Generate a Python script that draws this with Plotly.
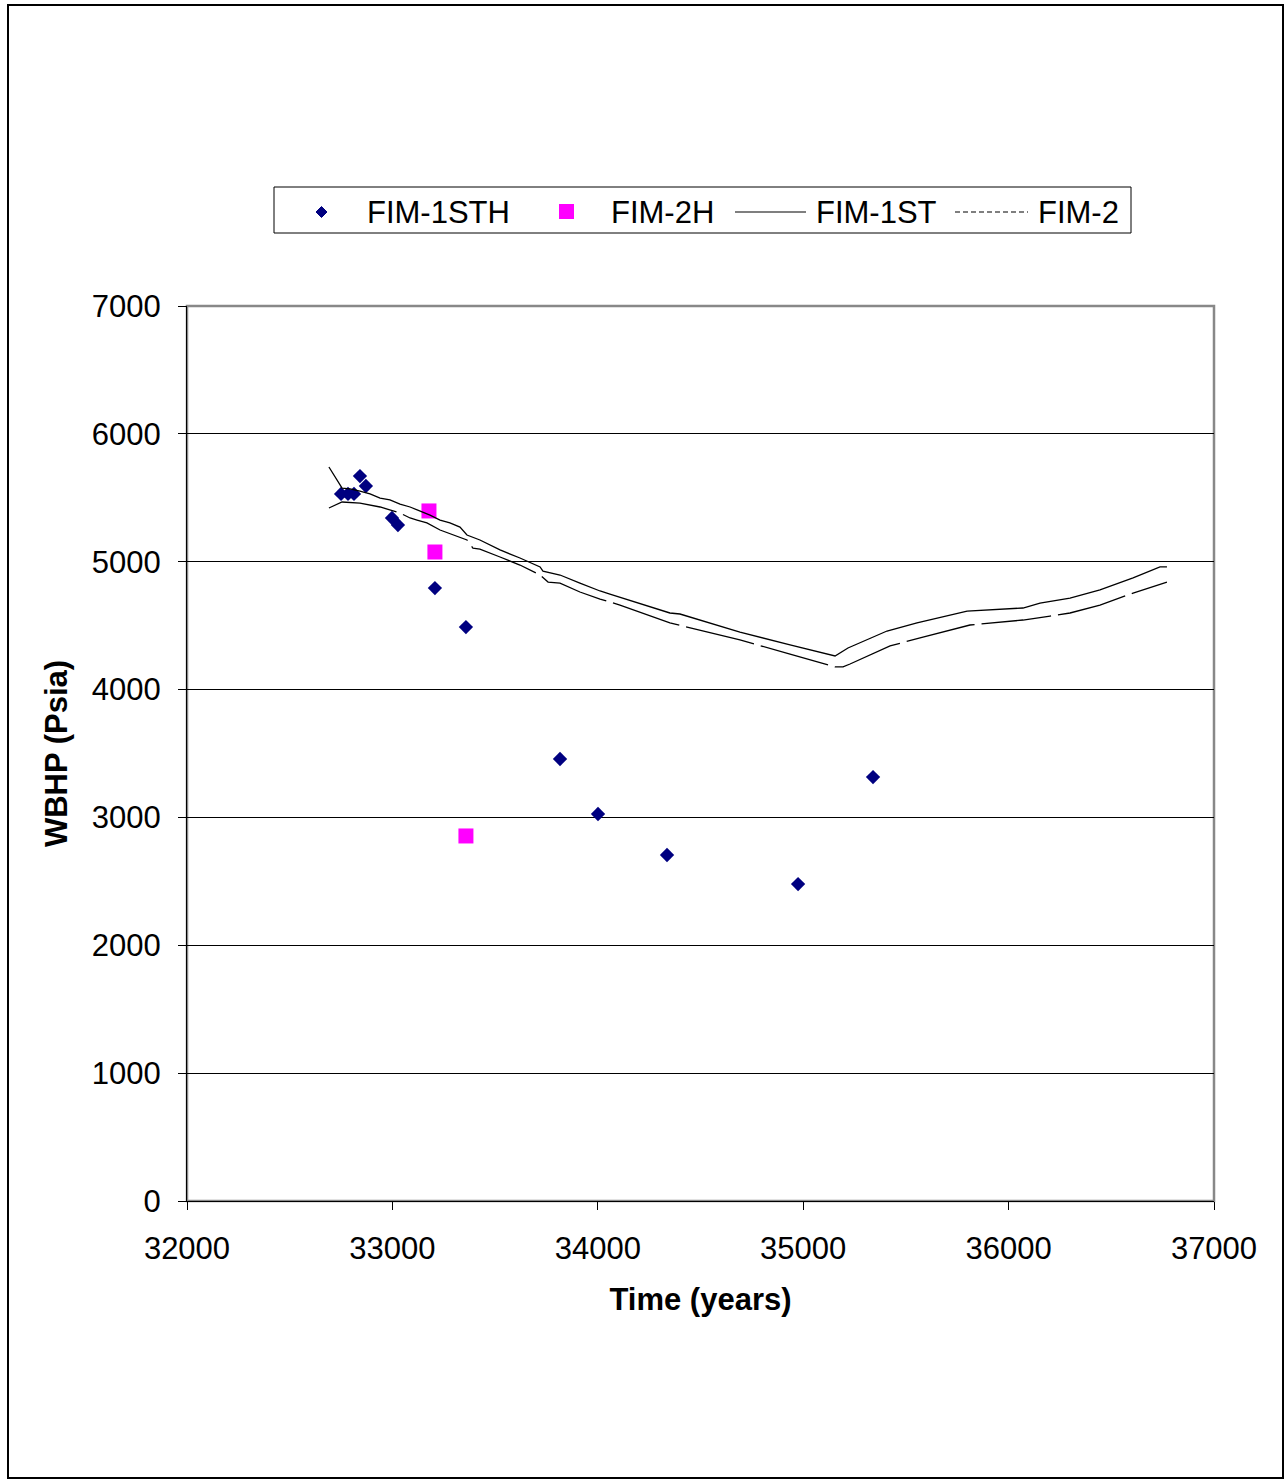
import plotly.graph_objects as go

# FIM-1STH observed points
sth_x = [32750, 32784, 32813, 32842, 32871, 32998, 33027, 33207, 33358, 33816, 34001, 34337, 34975, 35340]
sth_y = [5530, 5530, 5530, 5670, 5592, 5342, 5287, 4794, 4489, 3457, 3027, 2706, 2479, 3316]

# FIM-2H observed points
h2_x = [33178, 33207, 33358]
h2_y = [5397, 5076, 2855]

# FIM-1ST simulated line
st_x = [32691, 32755, 32794, 32842, 32891, 32940, 32988, 33037, 33086, 33134, 33183, 33232,
        33280, 33329, 33353, 33363, 33426, 33524, 33621, 33719, 33733, 33816, 33913, 34011,
        34059, 34351, 34400, 34692, 34936, 35155, 35218, 35408, 35554, 35798, 36070, 36153,
        36299, 36445, 36606, 36737, 36771]
st_y = [5741, 5576, 5569, 5553, 5530, 5498, 5483, 5451, 5428, 5397, 5365, 5326,
        5303, 5271, 5232, 5209, 5170, 5092, 5029, 4959, 4927, 4896, 4833, 4771,
        4747, 4599, 4591, 4450, 4349, 4263, 4325, 4458, 4521, 4614, 4638, 4677,
        4716, 4779, 4873, 4959, 4959]

# FIM-2 simulated line
f2_x = [32691, 32725, 32755, 32842, 32940, 33037, 33086, 33120, 33168, 33232, 33295, 33363,
        33392, 33426, 33524, 33621, 33719, 33758, 33816, 33913, 34011, 34108, 34351, 34692,
        34936, 35155, 35194, 35228, 35423, 35583, 35812, 36070, 36202, 36299, 36445, 36606,
        36771]
f2_y = [5420, 5443, 5467, 5459, 5428, 5381, 5342, 5326, 5303, 5248, 5209, 5170,
        5107, 5099, 5037, 4974, 4896, 4841, 4833, 4763, 4708, 4661, 4521, 4388,
        4278, 4177, 4177, 4200, 4341, 4411, 4505, 4544, 4575, 4599, 4661, 4755,
        4841]

series_names = ["FIM-1STH", "FIM-2H", "FIM-1ST", "FIM-2"]
x_ticks = [32000, 33000, 34000, 35000, 36000, 37000]
y_ticks = [0, 1000, 2000, 3000, 4000, 5000, 6000, 7000]

FONT = "Liberation Sans, Arial, sans-serif"
NAVY = "#000080"
MAGENTA = "#FF00FF"

fig = go.Figure()
fig.add_trace(go.Scatter(x=sth_x, y=sth_y, mode="markers", name=series_names[0], showlegend=False,
                         marker=dict(symbol="diamond", size=11, color=NAVY)))
fig.add_trace(go.Scatter(x=h2_x, y=h2_y, mode="markers", name=series_names[1], showlegend=False,
                         marker=dict(symbol="square", size=15, color=MAGENTA)))
fig.add_trace(go.Scatter(x=st_x, y=st_y, mode="lines", name=series_names[2], showlegend=False,
                         line=dict(color="black", width=1.3)))
fig.add_trace(go.Scatter(x=f2_x, y=f2_y, mode="lines", name=series_names[3], showlegend=False,
                         line=dict(color="black", width=1.3, dash="70px,7px")))

W, H = 1286, 1482
L, R, T, B = 187, 1214, 306, 1201
pw, ph = R - L, B - T


def px(v):
    return (v - L) / pw


def py(v):
    return (B - v) / ph


# manual legend (Excel style)
leg_y = 212
shapes = [
    dict(type="rect", xref="paper", yref="paper", x0=0, x1=1, y0=0, y1=1,
         line=dict(color="#888888", width=2.5), layer="below"),
    dict(type="rect", xref="paper", yref="paper",
         x0=px(8), x1=px(1283), y0=py(1478), y1=py(5),
         line=dict(color="black", width=2), layer="below"),
    # legend box
    dict(type="rect", xref="paper", yref="paper",
         x0=px(274), x1=px(1131), y0=py(233), y1=py(187),
         line=dict(color="black", width=1), fillcolor="white"),
    # diamond symbol
    dict(type="path", xref="paper", yref="paper",
         path=f"M {px(321.5)},{py(leg_y - 5.5)} L {px(327)},{py(leg_y)} L {px(321.5)},{py(leg_y + 5.5)} "
              f"L {px(316)},{py(leg_y)} Z",
         line=dict(color=NAVY, width=1), fillcolor=NAVY),
    # square symbol
    dict(type="rect", xref="paper", yref="paper",
         x0=px(559), x1=px(574), y0=py(219), y1=py(204),
         line=dict(color=MAGENTA, width=0), fillcolor=MAGENTA),
    # solid line sample
    dict(type="line", xref="paper", yref="paper",
         x0=px(735), x1=px(806), y0=py(leg_y), y1=py(leg_y),
         line=dict(color="black", width=1.2)),
    # dashed line sample
    dict(type="line", xref="paper", yref="paper",
         x0=px(955), x1=px(1028), y0=py(leg_y), y1=py(leg_y),
         line=dict(color="black", width=1.2, dash="5px,3px")),
]

text_x = [366, 610, 815, 1037]
annotations = [
    dict(text=name, xref="paper", yref="paper", x=px(tx), y=py(leg_y),
         xanchor="left", yanchor="middle", showarrow=False,
         font=dict(family=FONT, size=31, color="black"), borderpad=0)
    for name, tx in zip(series_names, text_x)
]

fig.update_layout(
    width=W, height=H,
    margin=dict(l=L, r=W - R, t=T, b=H - B, pad=0),
    paper_bgcolor="white", plot_bgcolor="white",
    font=dict(family=FONT, size=31, color="black"),
    showlegend=False,
    xaxis=dict(range=[32000, 37000], tickvals=x_ticks, ticktext=[str(v) for v in x_ticks],
               showgrid=False, zeroline=False, showline=True, linecolor="black", linewidth=1.3,
               ticks="outside", ticklen=8, tickcolor="black", tickwidth=1.3,
               ticklabelstandoff=12, tickfont=dict(size=31),
               title=dict(text="<b>Time (years)</b>", font=dict(family=FONT, size=31), standoff=22)),
    yaxis=dict(range=[0, 7000], tickvals=y_ticks, ticktext=[str(v) for v in y_ticks],
               showgrid=True, gridcolor="black", gridwidth=1, zeroline=False,
               showline=True, linecolor="black", linewidth=1.3,
               ticks="outside", ticklen=8, tickcolor="black", tickwidth=1.3,
               ticklabelstandoff=11, tickfont=dict(size=31),
               title=dict(text="<b>WBHP (Psia)</b>", font=dict(family=FONT, size=31), standoff=14)),
    shapes=shapes,
    annotations=annotations,
)

fig.write_html("out.html", config={"displayModeBar": False},
               post_script="document.body.style.margin='0px';")
